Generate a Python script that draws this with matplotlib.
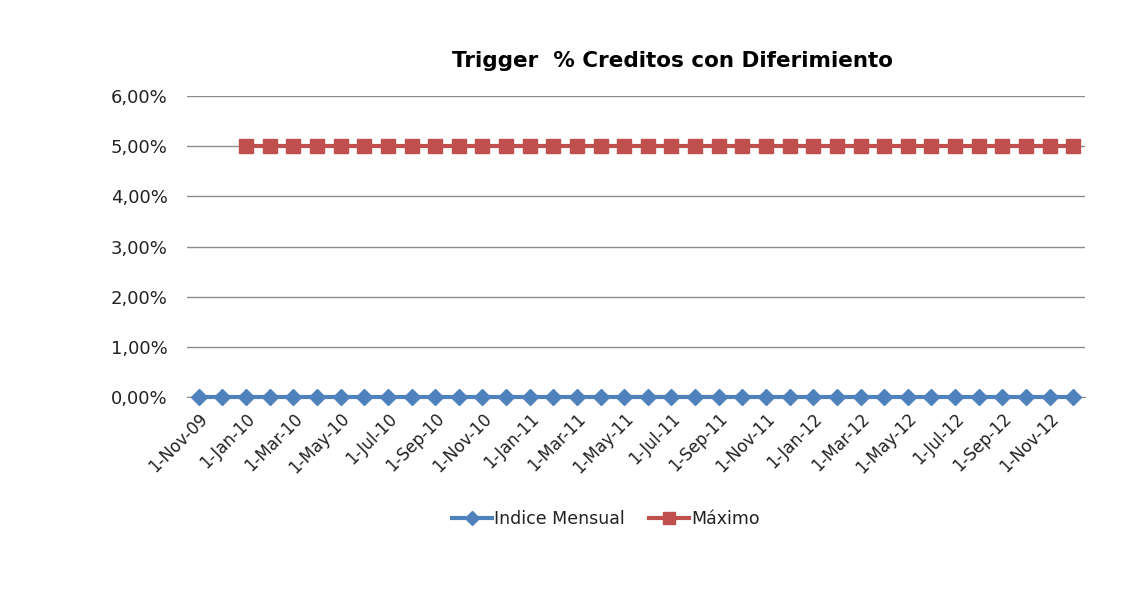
import matplotlib
matplotlib.use("Agg")
import matplotlib.pyplot as plt
import pandas as pd

dates = pd.date_range("2009-11-01", "2012-12-01", freq="MS")
labels = [f"1-{d.strftime('%b')}-{d.strftime('%y')}" for d in dates]
indice_mensual = [0.0] * len(dates)
maximo = [None, None] + [5.0] * (len(dates) - 2)

fig = plt.figure(figsize=(11.38, 5.96), dpi=100)
ax = fig.add_axes([187/1138, 1-397/596, (1085-187)/1138, (397-96)/596])

x = list(range(len(dates)))
blue = "#4F81BD"
red = "#C0504D"
ax.plot(x, indice_mensual, color=blue, lw=3, marker="D", ms=8, label="Indice Mensual",
        zorder=3, clip_on=False)
xm = [i for i, v in enumerate(maximo) if v is not None]
ym = [v for v in maximo if v is not None]
ax.plot(xm, ym, color=red, lw=3, marker="s", ms=10, label="Máximo", zorder=3, clip_on=False)

ax.set_xlim(-0.5, len(dates) - 0.5)
ax.set_ylim(0, 6)
ax.set_yticks([0, 1, 2, 3, 4, 5, 6])
ax.set_yticklabels([f"{v},00%" for v in range(7)], fontsize=13, color="#222222")
ax.yaxis.grid(True, color="#8c8c8c", lw=1)
ax.set_axisbelow(True)
for s in ["top", "right", "left"]:
    ax.spines[s].set_visible(False)
ax.spines["bottom"].set_color("#8c8c8c")
ax.tick_params(axis="y", length=0, pad=14)
ax.set_xticks(x[::2])
ax.set_xticklabels(labels[::2], rotation=45, ha="right", rotation_mode="anchor", fontsize=12,
                   color="#222222")
ax.tick_params(axis="x", length=0, pad=9)

fig.text(673/1138, 1-61/596, "Trigger  % Creditos con Diferimiento", ha="center", va="center",
         fontsize=15.5, fontweight="bold")
fig.legend(loc="center", bbox_to_anchor=(606/1138, 1-519/596), ncol=2, frameon=False,
           fontsize=12.5, handlelength=2.3, columnspacing=1.4, handletextpad=0.15, markerscale=0.9,
           labelcolor="#222222")

fig.savefig("out.png", dpi=100)
